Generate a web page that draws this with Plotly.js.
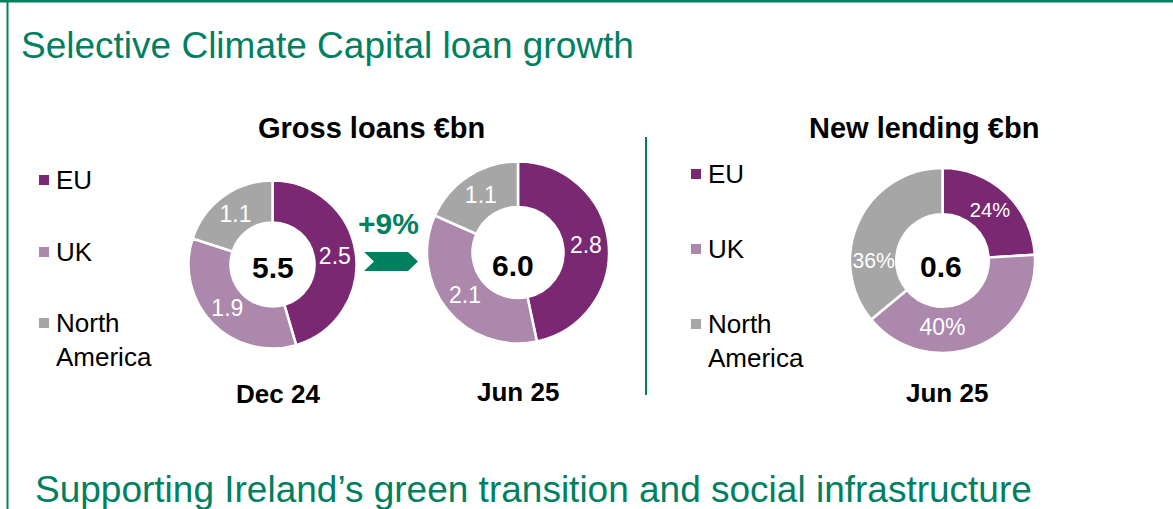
<!DOCTYPE html>
<html>
<head>
<meta charset="utf-8">
<script src="https://cdn.plot.ly/plotly-3.0.1.min.js"></script>
<style>
html,body{margin:0;padding:0;background:#fff;}
#chart{width:1173px;height:509px;}
</style>
</head>
<body>
<div id="chart"></div>
<script>
// ---- Data ----
const regions = ["EU", "UK", "North America"];
const legendLabels = ["EU", "UK", "North<br>America"];
const grossDec24 = [2.5, 1.9, 1.1];
const grossJun25 = [2.8, 2.1, 1.1];
const newLendingPct = [24, 40, 36];
const newLendingTotal = 0.6;
const growthLabel = "+9%";
const periodLabels = ["Dec 24", "Jun 25", "Jun 25"];
const panelTitles = ["Gross loans €bn", "New lending €bn"];
const mainTitle = "Selective Climate Capital loan growth";
const bottomTitle = "Supporting Ireland’s green transition and social infrastructure";

// ---- Styles ----
const colors = ["#7B2873", "#AB88AC", "#A6A6A6"];
const green = "#00805F";
const W = 1173, H = 509;
const px = x => x / W;
const py = y => 1 - y / H;
const FONT = "Liberation Sans, Arial, sans-serif";

function domainFor(cx, cy, r) {
  return {x: [px(cx - r), px(cx + r)], y: [py(cy + r), py(cy - r)]};
}
function sum(a) { return a.reduce((s, v) => s + v, 0); }

const pieBase = {
  type: "pie", hole: 0.5, sort: false, direction: "clockwise", rotation: 0,
  labels: regions, marker: {colors: colors, line: {color: "#fff", width: 2.5}},
  textposition: "inside", insidetextorientation: "horizontal",
  textfont: {family: FONT, size: 23, color: "#fff"}, showlegend: false,
  hoverinfo: "label+value"
};

const traces = [
  Object.assign({}, pieBase, {values: grossDec24, texttemplate: "%{value:.1f}", domain: domainFor(272.5, 264.5, 84)}),
  Object.assign({}, pieBase, {values: grossJun25, texttemplate: "%{value:.1f}", domain: domainFor(518, 252.5, 91)}),
  Object.assign({}, pieBase, {values: newLendingPct, texttemplate: "%{percent:.0%}", domain: domainFor(942.5, 260.5, 92.5)})
];

const ann = [];
const shapes = [];
function txt(text, x, y, size, opts) {
  ann.push(Object.assign({text: text, x: px(x), y: py(y), xref: "paper", yref: "paper",
    showarrow: false, xanchor: "center", yanchor: "middle",
    font: {family: FONT, size: size, color: "#000"}}, opts || {}));
}
// titles
txt(mainTitle, 19, 45, 37, {xanchor: "left", font: {family: FONT, size: 37, color: green}});
txt(bottomTitle, 33, 489, 37, {xanchor: "left", font: {family: FONT, size: 37, color: green}});
txt("<b>" + panelTitles[0] + "</b>", 371, 128, 29);
txt("<b>" + panelTitles[1] + "</b>", 924, 128, 29);
// period labels
txt("<b>" + periodLabels[0] + "</b>", 278, 394, 26);
txt("<b>" + periodLabels[1] + "</b>", 518, 392, 26);
txt("<b>" + periodLabels[2] + "</b>", 947, 393, 26);
// center totals
txt("<b>" + sum(grossDec24).toFixed(1) + "</b>", 273, 267, 30);
txt("<b>" + sum(grossJun25).toFixed(1) + "</b>", 513, 265, 30);
txt("<b>" + newLendingTotal.toFixed(1) + "</b>", 941, 266, 30);
// growth
txt("<b>" + growthLabel + "</b>", 388, 223, 30, {font: {family: FONT, size: 30, color: green}});

// legends
function legend(x0, ys) {
  legendLabels.forEach((lab, i) => {
    const y = ys[i];
    shapes.push({type: "rect", xref: "paper", yref: "paper",
      x0: px(x0), x1: px(x0 + 10), y0: py(y + 5), y1: py(y - 5),
      fillcolor: colors[i], line: {width: 0}});
    ann.push({text: lab, x: px(x0 + 15), y: py(y - 17), xref: "paper", yref: "paper",
      showarrow: false, xanchor: "left", yanchor: "top", align: "left",
      font: {family: FONT, size: 26, color: "#000"}});
  });
}
legend(39, [180, 252, 323]);
legend(691, [174, 249, 324]);

// chevron arrow
const c = [[364,252],[408,252],[418,261.5],[408,271],[364,271],[374,261.5]];
shapes.push({type: "path", xref: "paper", yref: "paper",
  path: "M" + c.map(p => px(p[0]) + "," + py(p[1])).join(" L") + " Z",
  fillcolor: green, line: {width: 0}});
// separator
shapes.push({type: "line", xref: "paper", yref: "paper", x0: px(646), x1: px(646), y0: py(137), y1: py(395),
  line: {color: green, width: 2}});
// frame
shapes.push({type: "line", xref: "paper", yref: "paper", x0: 0, x1: 1, y0: py(1), y1: py(1), line: {color: green, width: 3}});
shapes.push({type: "line", xref: "paper", yref: "paper", x0: px(7.5), x1: px(7.5), y0: 0, y1: 1, line: {color: green, width: 2}});

const layout = {
  width: W, height: H, margin: {l: 0, r: 0, t: 0, b: 0},
  paper_bgcolor: "#fff", plot_bgcolor: "#fff", showlegend: false,
  annotations: ann, shapes: shapes, font: {family: FONT}
};
Plotly.newPlot("chart", traces, layout, {displayModeBar: false, staticPlot: true});
</script>
</body>
</html>
